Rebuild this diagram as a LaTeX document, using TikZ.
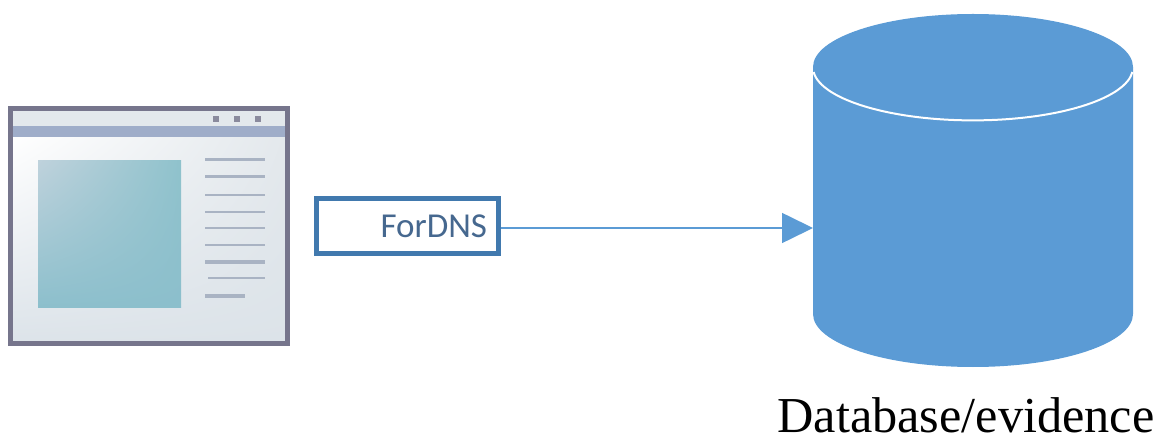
\documentclass[tikz,border=0pt]{standalone}
\usepackage{fontspec}
\setmainfont{Liberation Serif}
\newfontfamily\boxfont{Carlito}
\usetikzlibrary{arrows.meta,shadings}
\definecolor{dbblue}{HTML}{5B9BD5}
\definecolor{boxedge}{HTML}{4179AE}
\definecolor{boxtext}{HTML}{46688F}
\definecolor{winedge}{HTML}{76758C}
\definecolor{winband}{HTML}{9FADC9}
\definecolor{wintop}{HTML}{E3E8EC}
\definecolor{winlow}{HTML}{DCE3E9}
\definecolor{linegrey}{HTML}{A9B3C3}
\definecolor{picul}{HTML}{BFD2DC}
\definecolor{picur}{HTML}{8FC2CC}
\definecolor{picll}{HTML}{8CBFCC}
\tikzset{
  textline/.style={draw=linegrey,line width=#1},
  textline/.default=1.6pt
}
\begin{document}
\begin{tikzpicture}[x=1pt,y=-1pt]
\useasboundingbox (0,0) rectangle (1158,435);
% window
\shade[upper left=white,upper right=wintop,lower left=winlow,lower right=winlow] (10,136) rectangle (288,344);
\fill[wintop] (10,108) rectangle (288,126);
\fill[winband] (10,126) rectangle (288,137);
\draw[winedge,line width=5pt] (10.5,108.5) rectangle (287.5,343.5);
\shade[upper left=picul,upper right=picur,lower left=picll,lower right=picll] (38,160.5) rectangle (181,308);
\foreach \x in {216,237,258} \fill[winedge!85] (\x-3,116) rectangle (\x+3,122);
\foreach \y/\w in {160/3pt,177/3pt,195/2pt,212/2pt,228/2pt,245/2pt,262/3.4pt}
  \draw[textline=\w] (205,\y) -- (265,\y);
\draw[textline=2pt] (208,278) -- (265,278);
\draw[textline=3.4pt] (205,296) -- (245,296);
% database
\fill[dbblue] (813,67) -- (813,314) arc[start angle=180,end angle=0,x radius=160,y radius=53] -- (1133,67) -- cycle;
\fill[dbblue] (973,67) ellipse[x radius=160,y radius=53];
\draw[white,line width=2pt] (813.6,72) arc[start angle=175,end angle=5,x radius=160,y radius=53];
\coordinate (db) at (813,228);
\node[font=\fontsize{50.3}{50.3}\selectfont,anchor=base,inner sep=0pt] (dblabel) at (966,432) {Database/evidence};
% ForDNS box
\node[draw=boxedge,line width=5pt,fill=white,minimum width=182pt,minimum height=55pt,inner sep=0pt,
  text width=159pt,align=right,font=\boxfont\fontsize{35}{35}\selectfont,text=boxtext] (fordns) at (407.5,226.5) {ForDNS};
\draw[dbblue,line width=1.6pt,-{Triangle[length=31pt,width=30pt]}] (fordns.east |- db) -- (db);
\end{tikzpicture}
\end{document}
